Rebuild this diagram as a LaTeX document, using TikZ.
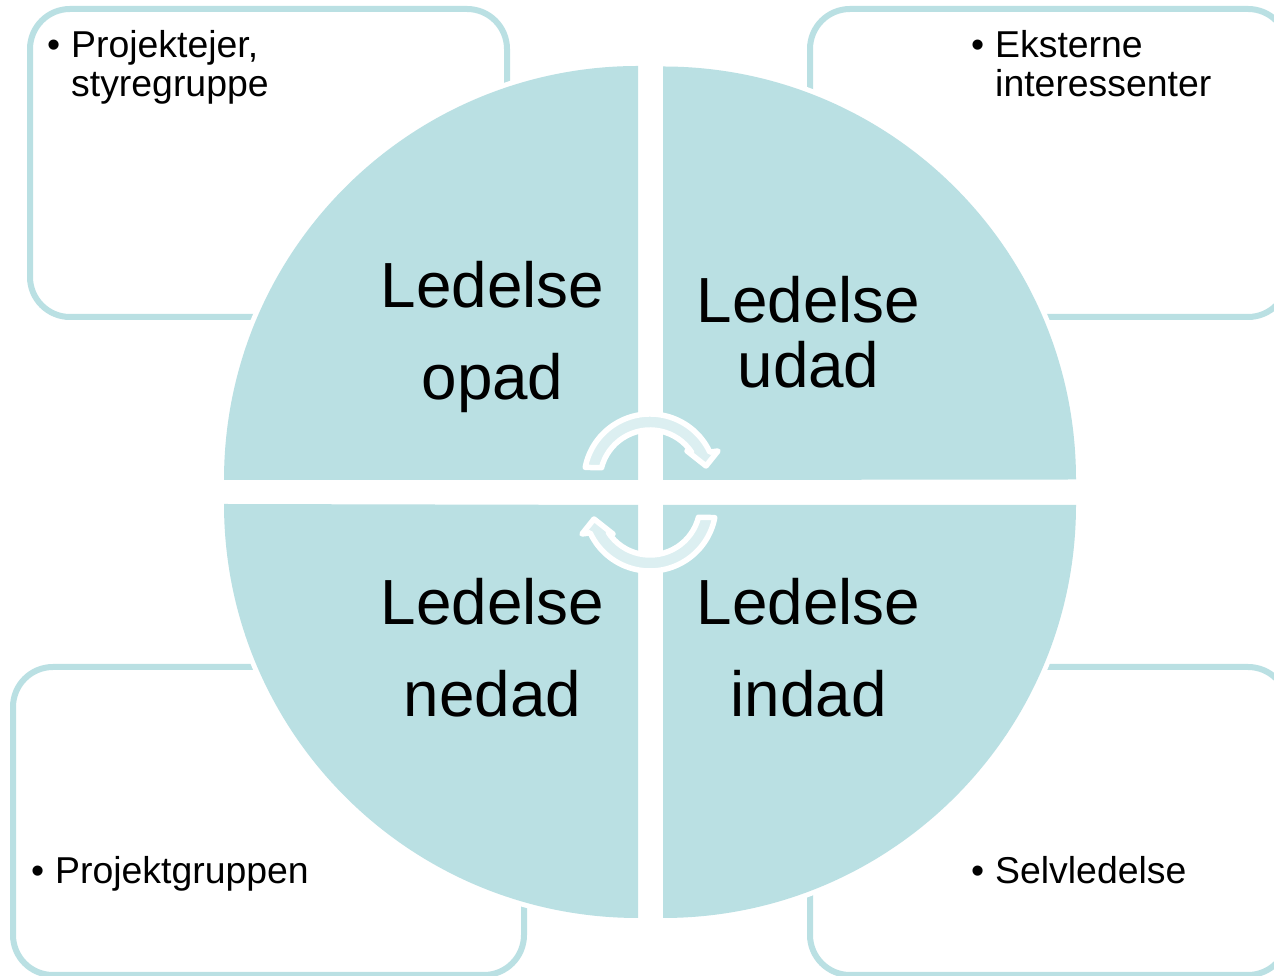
\documentclass[tikz,border=0pt]{standalone}
\usepackage{fontspec}
\setmainfont{Liberation Sans}
\definecolor{quadblue}{HTML}{BAE0E3}
\definecolor{arrowblue}{HTML}{DCEFF1}
\newcommand{\bulletline}[1]{\makebox[24pt][l]{\textbullet}#1}
\tikzset{
  panelbox/.style={draw=quadblue, line width=6pt, rounded corners=40pt},
  quadrant/.style={fill=quadblue, preaction={draw=white, line width=10pt}},
  cyclearrow/.style={fill=arrowblue, draw=white, line width=5.5pt, line join=round},
  biglabel/.style={align=center, inner sep=0pt, font=\fontsize{63.8}{92}\selectfont},
  smalllabel/.style={align=left, anchor=north west, inner sep=0pt, font=\fontsize{37.4}{39.5}\selectfont}
}
\begin{document}
\begin{tikzpicture}[x=1pt,y=1pt]
        \clip (0,0) rectangle (1274,976);
        \fill [white] (0,0) rectangle (1274,976);
        \draw [panelbox] (30,659) rectangle (507,967);
        \draw [panelbox] (810,659) rectangle (1288,967);
        \draw [panelbox] (13,1) rectangle (524,309);
        \draw [panelbox] (810,1) rectangle (1288,309);
        \fill [quadrant] (638,496) -- (224,496) arc [start angle=180, end angle=90, radius=414] -- cycle;
        \fill [quadrant] (663,496) -- (663,909.5) arc [start angle=90, end angle=0, radius=413] -- cycle;
        \fill [quadrant] (638,471) -- (638,58) arc [start angle=270, end angle=180, radius=414] -- cycle;
        \fill [quadrant] (663,471) -- (1076,471) arc [start angle=0, end angle=-90, radius=413] -- cycle;
        \foreach \rot in {0,180} {
          \draw [cyclearrow, rotate around={\rot:(650,483.5)}]
            ([shift={(650,496)}]169:66) arc [start angle=169, end angle=25, radius=66]
            -- (718,525) -- (706,510) -- (687,525)
            -- ([shift={(650,496)}]33:50) arc [start angle=33, end angle=165.8, radius=50] -- cycle;
        }
        \node [biglabel] (opad) at (492.5,639) {Ledelse\\opad};
        \node [biglabel, font=\fontsize{63.8}{65}\selectfont] (udad) at (808.5,644) {Ledelse\\udad};
        \node [biglabel] (nedad) at (492.5,328) {Ledelse\\nedad};
        \node [biglabel] (indad) at (808.5,328) {Ledelse\\indad};
        \node [smalllabel] (upper) at (47,946) {\bulletline{Projektejer,}\\\hspace*{24pt}styregruppe};
        \node [smalllabel] (outer) at (971,946) {\bulletline{Eksterne}\\\hspace*{24pt}interessenter};
        \node [smalllabel] (team) at (31,120) {\bulletline{Projektgruppen}};
        \node [smalllabel] (self) at (971,120) {\bulletline{Selvledelse}};
      \end{tikzpicture}
\end{document}
